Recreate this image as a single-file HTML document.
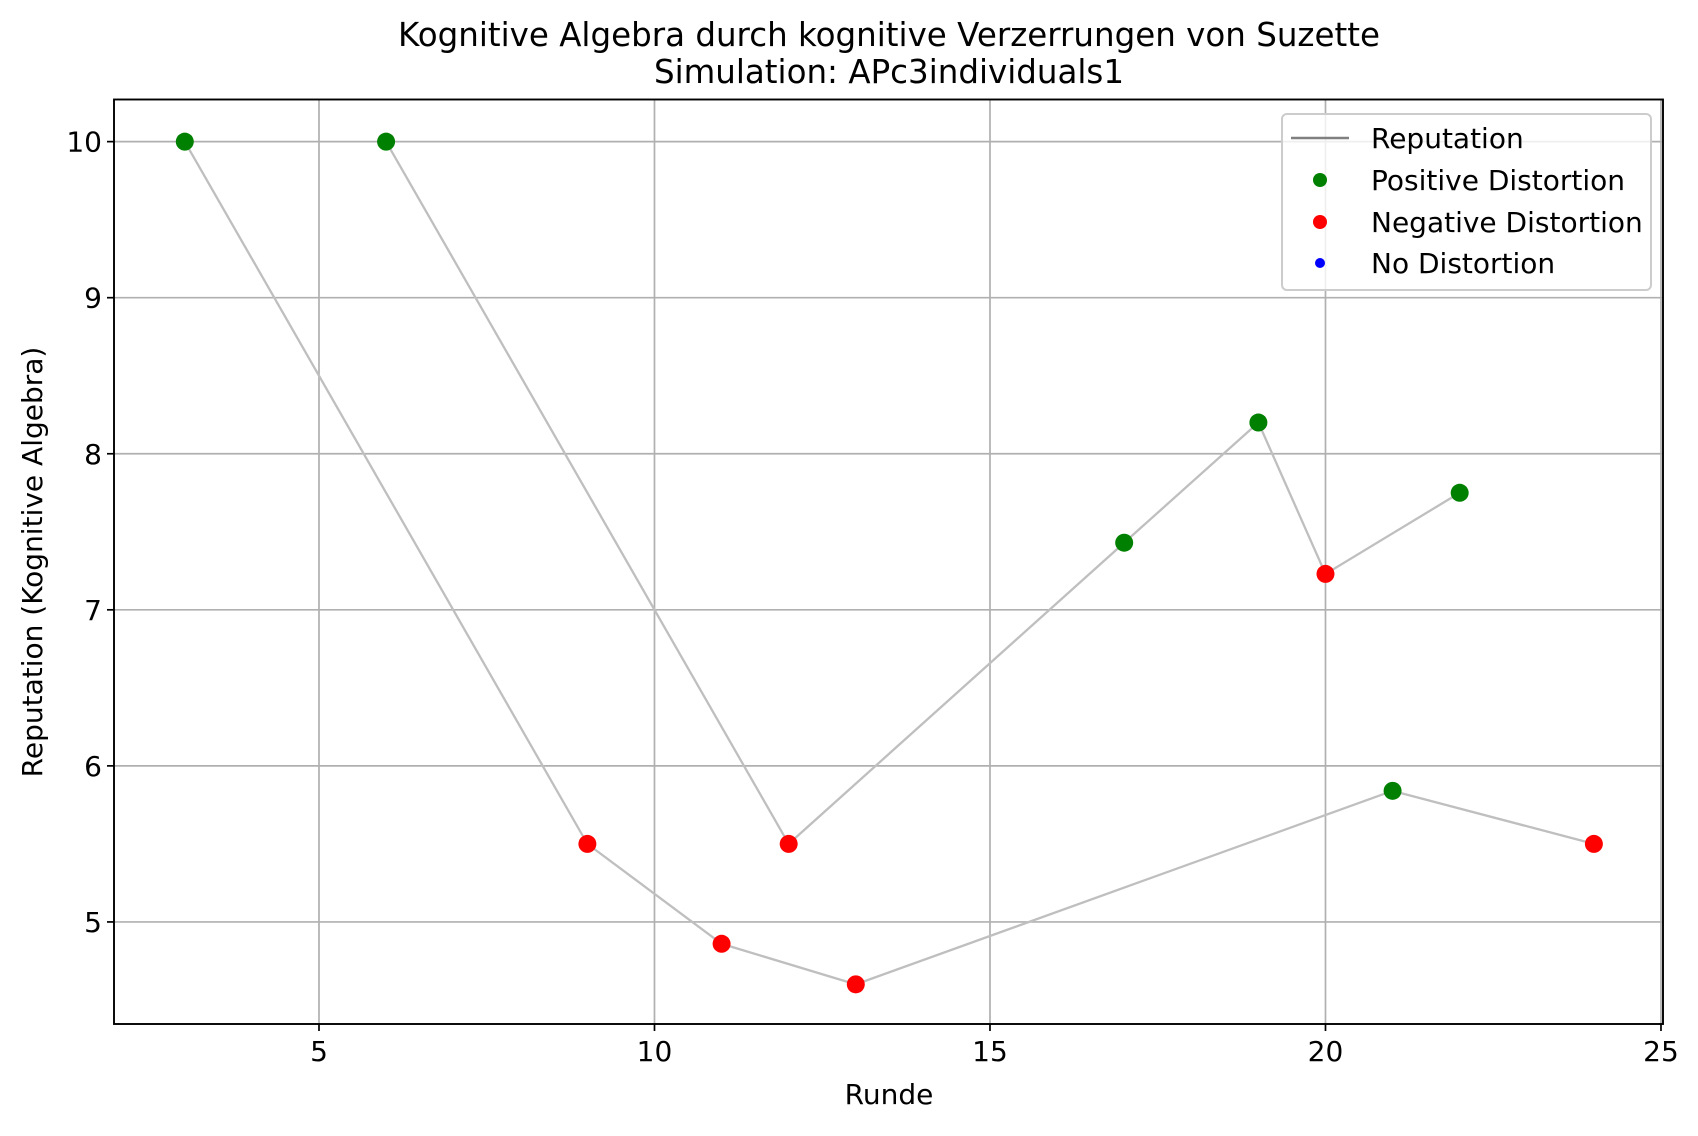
<!DOCTYPE html>
<html><head><meta charset="utf-8"><style>
body{margin:0;background:#fff;}
svg text{font-family:"DejaVu Sans","Liberation Sans",sans-serif;fill:#000;}
</style></head><body>
<svg id="chart" width="1698" height="1131" xmlns="http://www.w3.org/2000/svg">
<text x="889" y="46" font-size="32.5" text-anchor="middle">Kognitive Algebra durch kognitive Verzerrungen von Suzette</text>
<text x="889" y="83" font-size="32.5" text-anchor="middle">Simulation: APc3individuals1</text>
<g id="grid"></g><g id="lines"></g><g id="points"></g><g id="axes"></g>
<text x="889" y="1104" font-size="28" text-anchor="middle">Runde</text>
<text transform="translate(42,562) rotate(-90)" font-size="28" text-anchor="middle">Reputation (Kognitive Algebra)</text>
<g>
<rect x="1282" y="114" width="369" height="176" rx="5" fill="#fff" fill-opacity="0.8" stroke="#ccc" stroke-width="2"/>
<line x1="1291" y1="138" x2="1349" y2="138" stroke="#808080" stroke-width="2.5"/>
<text x="1371" y="148" font-size="28">Reputation</text>
<circle cx="1320" cy="180" r="7" fill="green"/>
<text x="1371" y="190" font-size="28">Positive Distortion</text>
<circle cx="1320" cy="222" r="7" fill="red"/>
<text x="1371" y="232" font-size="28">Negative Distortion</text>
<circle cx="1320" cy="263" r="5" fill="blue"/>
<text x="1371" y="273" font-size="28">No Distortion</text>
</g>
</svg>
<script>
const series1X=[3,9,11,13,21,24];
const series1Y=[10,5.5,4.86,4.6,5.84,5.5];
const series1Type=["pos","neg","neg","neg","pos","neg"];
const series2X=[6,12,17,19,20,22];
const series2Y=[10,5.5,7.43,8.2,7.23,7.75];
const series2Type=["pos","neg","pos","pos","neg","pos"];
const xTicks=[5,10,15,20,25];
const yTicks=[5,6,7,8,9,10];
const L=114,R=1663,T=99.5,B=1024;
const xMin=1.945,xMax=25.03,yMin=4.346,yMax=10.27;
const sx=v=>L+(v-xMin)/(xMax-xMin)*(R-L);
const sy=v=>B-(v-yMin)/(yMax-yMin)*(B-T);
const NS="http://www.w3.org/2000/svg";
function mk(p,t,a){const e=document.createElementNS(NS,t);for(const k in a)e.setAttribute(k,a[k]);p.appendChild(e);return e;}
const grid=document.getElementById('grid'),axes=document.getElementById('axes');
xTicks.forEach(v=>{const x=sx(v);
 const g=mk(grid,'line',{x1:x,x2:x,y1:T,y2:B,stroke:'#b0b0b0','stroke-width':1.7});
 
 
 mk(axes,'line',{x1:x,x2:x,y1:B,y2:B+7,stroke:'#000','stroke-width':1.7});
 const t=mk(axes,'text',{x:x,y:B+37,'font-size':28,'text-anchor':'middle'});t.textContent=v;
 
 });
yTicks.forEach(v=>{const y=sy(v);
 const g=mk(grid,'line',{x1:L,x2:R,y1:y,y2:y,stroke:'#b0b0b0','stroke-width':1.7});
 
 
 mk(axes,'line',{x1:L-7,x2:L,y1:y,y2:y,stroke:'#000','stroke-width':1.7});
 const t=mk(axes,'text',{x:L-12,y:y+10,'font-size':28,'text-anchor':'end'});t.textContent=v;
 
 });
const fr=mk(axes,'rect',{x:L,y:T,width:R-L,height:B-T,fill:'none',stroke:'#000','stroke-width':1.9});


const lines=document.getElementById('lines'),pts=document.getElementById('points');
[[series1X,series1Y,series1Type],[series2X,series2Y,series2Type]].forEach((s,i)=>{
 const pl=mk(lines,'polyline',{points:s[0].map((x,j)=>sx(x)+','+sy(s[1][j])).join(' '),fill:'none',stroke:'#bfbfbf','stroke-width':2.3});
 
 
 s[0].forEach((x,j)=>{const c=mk(pts,'circle',{cx:sx(x),cy:sy(s[1][j]),r:9,fill:s[2][j]==='pos'?'green':(s[2][j]==='neg'?'red':'blue')});
  
  });
});
</script>
</body></html>
